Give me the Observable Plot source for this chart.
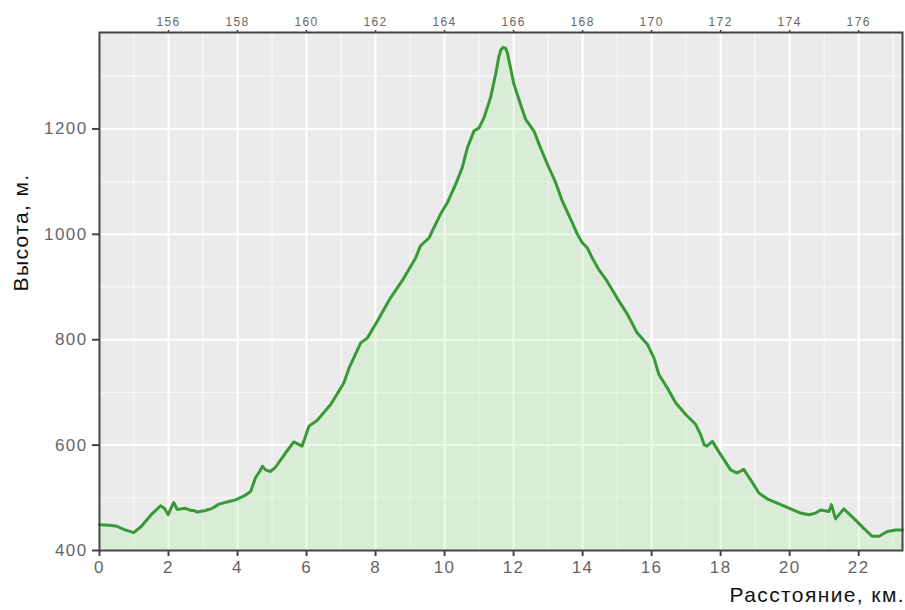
<!DOCTYPE html>
<html>
<head>
<meta charset="utf-8">
<script src="https://cdn.jsdelivr.net/npm/d3@7"></script>
<script src="https://cdn.jsdelivr.net/npm/@observablehq/plot@0.6"></script>
<style>
  html, body { margin: 0; padding: 0; background: #ffffff; }
  #chart { width: 905px; height: 610px; }
  #chart svg g[aria-label="x-axis tick label"] text,
  #chart svg g[aria-label="y-axis tick label"] text { letter-spacing: 1.4px; }
  #chart svg .toplabels text { letter-spacing: 0.5px; }
  #chart svg .titles text { letter-spacing: 1.4px; }
</style>
</head>
<body>
<div id="chart"></div>
<script>
// Distance along the route (km)
const distanceKm = [
  0, 0.3, 0.5, 0.7, 0.99, 1.2, 1.5, 1.77, 1.88, 1.99, 2.07, 2.15, 2.25, 2.49, 2.64, 2.73, 2.83, 3.07, 3.27, 3.46,
  3.75, 3.94, 4.18, 4.38, 4.52, 4.67, 4.72, 4.81, 4.96, 5.10, 5.25, 5.39, 5.63, 5.87, 6.07, 6.31, 6.70, 7.08, 7.23, 7.57,
  7.76, 8.05, 8.43, 8.82, 9.16, 9.30, 9.55, 9.64, 9.88, 10.08, 10.32, 10.51, 10.66, 10.85, 11.0, 11.14, 11.33, 11.48, 11.57, 11.63,
  11.70, 11.77, 11.82, 11.91, 12.01, 12.20, 12.35, 12.59, 12.78, 12.98, 13.22, 13.40, 13.70, 13.85, 13.99, 14.14, 14.28, 14.47, 14.71, 15.0,
  15.30, 15.58, 15.88, 16.07, 16.21, 16.46, 16.70, 16.99, 17.28, 17.42, 17.52, 17.60, 17.76, 18.0, 18.29, 18.48, 18.67, 18.87, 19.11, 19.35,
  19.64, 20.03, 20.32, 20.56, 20.75, 20.90, 21.14, 21.21, 21.33, 21.57, 21.86, 22.15, 22.39, 22.59, 22.83, 23.07, 23.27
];
// Elevation (m)
const elevationM = [
  449, 448, 446, 440, 434, 445, 468, 485, 480, 468, 480, 491, 478, 480, 476, 476, 473, 476, 480, 488,
  493, 496, 503, 512, 538, 553, 560, 553, 550, 558, 572, 585, 606, 598, 636, 647, 677, 718, 746, 794,
  803, 835, 879, 917, 955, 978, 993, 1006, 1038, 1060, 1095, 1126, 1164, 1196, 1202, 1221, 1259, 1304, 1336, 1350,
  1355, 1353, 1344, 1316, 1285, 1247, 1218, 1196, 1164, 1133, 1098, 1065, 1022, 1000, 984, 974, 955, 933, 911, 879,
  848, 813, 791, 765, 734, 708, 680, 658, 639, 620, 601, 598, 607, 582, 553, 547, 554, 534, 509, 498,
  490, 479, 471, 468, 471, 477, 474, 487, 460, 479, 461, 442, 427, 427, 436, 439, 439
];
// Axis ticks
const xTicks = [0, 2, 4, 6, 8, 10, 12, 14, 16, 18, 20, 22];
const xMinor = [1, 3, 5, 7, 9, 11, 13, 15, 17, 19, 21, 23];
const topTicks = [2, 4, 6, 8, 10, 12, 14, 16, 18, 20, 22];
const topOffset = 154; // top axis = bottom distance + 154
const yTicks = [400, 600, 800, 1000, 1200];
const yMinor = [500, 700, 900, 1100, 1300];
const xDomain = [0, 23.27];
const yDomain = [400, 1383];
const yLabel = "Высота, м.";
const xLabel = "Расстояние, км.";

const data = distanceKm.map((km, i) => ({km, m: elevationM[i]}));

const chart = Plot.plot({
  width: 905,
  height: 610,
  marginTop: 32,
  marginRight: 3,
  marginBottom: 60,
  marginLeft: 99,
  style: {fontFamily: "'Liberation Sans', Arial, sans-serif", background: "#ffffff", overflow: "visible"},
  x: {domain: xDomain, axis: null},
  y: {domain: yDomain, axis: null},
  marks: [
    Plot.frame({fill: "#ebebeb", stroke: "none"}),
    Plot.gridX(xMinor, {stroke: "#ffffff", strokeOpacity: 0.75, strokeWidth: 1}),
    Plot.gridY(yMinor, {stroke: "#ffffff", strokeOpacity: 0.75, strokeWidth: 1}),
    Plot.gridX(xTicks, {stroke: "#ffffff", strokeOpacity: 1, strokeWidth: 2}),
    Plot.gridY(yTicks, {stroke: "#ffffff", strokeOpacity: 1, strokeWidth: 2}),
    Plot.areaY(data, {x: "km", y1: () => yDomain[0], y2: "m", fill: "rgb(165,240,150)", fillOpacity: 0.24}),
    Plot.lineY(data, {x: "km", y: "m", stroke: "#379a37", strokeWidth: 3, strokeLinejoin: "round"}),
    Plot.frame({stroke: "#444", strokeWidth: 2}),
    Plot.axisX(xTicks, {anchor: "bottom", tickSize: 6, tickPadding: 4, fontSize: 17, color: "#666", stroke: "#444", strokeWidth: 2, label: null}),
    Plot.axisX(topTicks, {anchor: "top", tickSize: 3, tickPadding: 4, fontSize: 12, color: "#666", stroke: "#444", strokeWidth: 1.5, tickFormat: d => String(d + topOffset), label: null, className: "toplabels"}),
    Plot.axisY(yTicks, {anchor: "left", tickSize: 7, tickPadding: 5, fontSize: 17, color: "#666", stroke: "#444", strokeWidth: 2, tickFormat: d => String(d), label: null}),
    Plot.text([yLabel], {frameAnchor: "left", dx: -78, rotate: -90, fontSize: 21, fill: "#111", lineAnchor: "middle", className: "titles"}),
    Plot.text([xLabel], {frameAnchor: "bottom-right", dy: 45, dx: 2.5, textAnchor: "end", lineAnchor: "middle", fontSize: 21, fill: "#111", className: "titles"})
  ]
});
document.getElementById("chart").appendChild(chart);
</script>
</body>
</html>
